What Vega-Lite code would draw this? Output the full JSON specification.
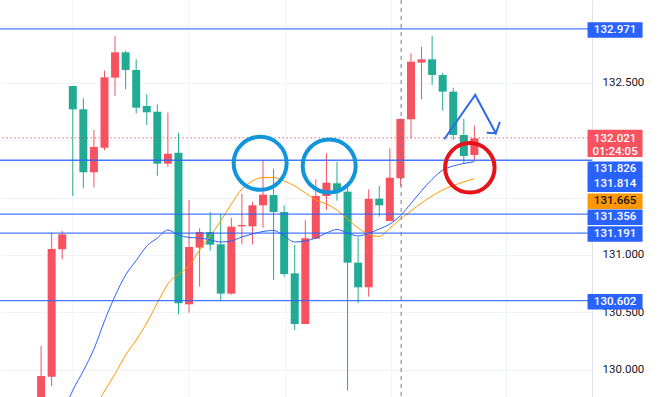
{
  "$schema": "https://vega.github.io/schema/vega-lite/v6.json",
  "width": 592,
  "height": 397,
  "padding": {"left": 0, "top": 0, "right": 68, "bottom": 0},
  "autosize": {"type": "none"},
  "background": "white",
  "config": {"view": {"stroke": null}, "font": "Roboto"},
  "resolve": {"axis": {"x": "independent", "y": "independent"}},
  "datasets": {
    "candles": [
      {"i": 0, "o": 129.60, "h": 130.207, "l": 129.50, "c": 129.945},
      {"i": 1, "o": 129.939, "h": 131.194, "l": 129.858, "c": 131.052},
      {"i": 2, "o": 131.050, "h": 131.209, "l": 130.963, "c": 131.180},
      {"i": 3, "o": 132.473, "h": 132.475, "l": 131.514, "c": 132.270},
      {"i": 4, "o": 132.270, "h": 132.366, "l": 131.582, "c": 131.721},
      {"i": 5, "o": 131.721, "h": 132.090, "l": 131.590, "c": 131.942},
      {"i": 6, "o": 131.935, "h": 132.607, "l": 131.913, "c": 132.549},
      {"i": 7, "o": 132.546, "h": 132.909, "l": 132.386, "c": 132.767},
      {"i": 8, "o": 132.767, "h": 132.781, "l": 132.445, "c": 132.613},
      {"i": 9, "o": 132.613, "h": 132.706, "l": 132.235, "c": 132.284},
      {"i": 10, "o": 132.299, "h": 132.401, "l": 132.133, "c": 132.244},
      {"i": 11, "o": 132.249, "h": 132.314, "l": 131.691, "c": 131.796},
      {"i": 12, "o": 131.796, "h": 132.241, "l": 131.770, "c": 131.883},
      {"i": 13, "o": 131.892, "h": 132.066, "l": 130.483, "c": 130.579},
      {"i": 14, "o": 130.570, "h": 131.480, "l": 130.497, "c": 131.070},
      {"i": 15, "o": 131.064, "h": 131.233, "l": 130.724, "c": 131.201},
      {"i": 16, "o": 131.201, "h": 131.375, "l": 131.037, "c": 131.090},
      {"i": 17, "o": 131.093, "h": 131.357, "l": 130.599, "c": 130.663},
      {"i": 18, "o": 130.663, "h": 131.325, "l": 130.655, "c": 131.247},
      {"i": 19, "o": 131.250, "h": 131.532, "l": 131.092, "c": 131.262},
      {"i": 20, "o": 131.250, "h": 131.462, "l": 131.092, "c": 131.433},
      {"i": 21, "o": 131.433, "h": 131.822, "l": 131.238, "c": 131.526},
      {"i": 22, "o": 131.523, "h": 131.752, "l": 130.782, "c": 131.375},
      {"i": 23, "o": 131.375, "h": 131.433, "l": 130.811, "c": 130.834},
      {"i": 24, "o": 130.840, "h": 131.087, "l": 130.346, "c": 130.398},
      {"i": 25, "o": 130.398, "h": 131.305, "l": 130.398, "c": 131.146},
      {"i": 26, "o": 131.142, "h": 131.660, "l": 131.140, "c": 131.514},
      {"i": 27, "o": 131.514, "h": 131.887, "l": 131.392, "c": 131.630},
      {"i": 28, "o": 131.625, "h": 131.813, "l": 131.473, "c": 131.552},
      {"i": 29, "o": 131.552, "h": 131.595, "l": 129.817, "c": 130.933},
      {"i": 30, "o": 130.933, "h": 131.154, "l": 130.584, "c": 130.718},
      {"i": 31, "o": 130.718, "h": 131.573, "l": 130.636, "c": 131.491},
      {"i": 32, "o": 131.491, "h": 131.602, "l": 131.334, "c": 131.433},
      {"i": 33, "o": 131.296, "h": 131.930, "l": 131.296, "c": 131.674},
      {"i": 34, "o": 131.669, "h": 132.190, "l": 131.600, "c": 132.186},
      {"i": 35, "o": 132.183, "h": 132.758, "l": 132.017, "c": 132.685},
      {"i": 36, "o": 132.677, "h": 132.816, "l": 132.357, "c": 132.706},
      {"i": 37, "o": 132.706, "h": 132.909, "l": 132.482, "c": 132.569},
      {"i": 38, "o": 132.569, "h": 132.589, "l": 132.258, "c": 132.424},
      {"i": 39, "o": 132.424, "h": 132.459, "l": 132.003, "c": 132.046},
      {"i": 40, "o": 132.046, "h": 132.188, "l": 131.793, "c": 131.863},
      {"i": 41, "o": 131.872, "h": 132.127, "l": 131.828, "c": 132.017}
    ],
    "maFast": [
      {"i": 2, "v": 129.61}, {"i": 3, "v": 129.82}, {"i": 4, "v": 129.99}, {"i": 5, "v": 130.18},
      {"i": 6, "v": 130.425}, {"i": 7, "v": 130.643}, {"i": 8, "v": 130.826}, {"i": 9, "v": 130.952},
      {"i": 10, "v": 131.078}, {"i": 11, "v": 131.148}, {"i": 12, "v": 131.218}, {"i": 13, "v": 131.174},
      {"i": 14, "v": 131.153}, {"i": 15, "v": 131.148}, {"i": 16, "v": 131.131}, {"i": 17, "v": 131.113},
      {"i": 18, "v": 131.122}, {"i": 19, "v": 131.157}, {"i": 20, "v": 131.183}, {"i": 21, "v": 131.205},
      {"i": 22, "v": 131.214}, {"i": 23, "v": 131.166}, {"i": 24, "v": 131.113}, {"i": 25, "v": 131.122},
      {"i": 26, "v": 131.148}, {"i": 27, "v": 131.192}, {"i": 28, "v": 131.222}, {"i": 29, "v": 131.192},
      {"i": 30, "v": 131.166}, {"i": 31, "v": 131.189}, {"i": 32, "v": 131.227}, {"i": 33, "v": 131.270},
      {"i": 34, "v": 131.344}, {"i": 35, "v": 131.449}, {"i": 36, "v": 131.56}, {"i": 37, "v": 131.66},
      {"i": 38, "v": 131.74}, {"i": 39, "v": 131.776}, {"i": 40, "v": 131.798}, {"i": 41, "v": 131.814}
    ],
    "maSlow": [
      {"i": 5, "v": 129.65}, {"i": 6, "v": 129.814}, {"i": 7, "v": 129.963}, {"i": 8, "v": 130.128},
      {"i": 9, "v": 130.259}, {"i": 10, "v": 130.407}, {"i": 11, "v": 130.582}, {"i": 12, "v": 130.747},
      {"i": 13, "v": 130.834}, {"i": 14, "v": 130.904}, {"i": 15, "v": 131.044}, {"i": 16, "v": 131.166},
      {"i": 17, "v": 131.296}, {"i": 18, "v": 131.445}, {"i": 19, "v": 131.575}, {"i": 20, "v": 131.645},
      {"i": 21, "v": 131.676}, {"i": 22, "v": 131.676}, {"i": 23, "v": 131.645}, {"i": 24, "v": 131.602},
      {"i": 25, "v": 131.541}, {"i": 26, "v": 131.480}, {"i": 27, "v": 131.445}, {"i": 28, "v": 131.392},
      {"i": 29, "v": 131.314}, {"i": 30, "v": 131.235}, {"i": 31, "v": 131.183}, {"i": 32, "v": 131.161},
      {"i": 33, "v": 131.235}, {"i": 34, "v": 131.314}, {"i": 35, "v": 131.384}, {"i": 36, "v": 131.453},
      {"i": 37, "v": 131.514}, {"i": 38, "v": 131.567}, {"i": 39, "v": 131.606}, {"i": 40, "v": 131.637},
      {"i": 41, "v": 131.665}
    ],
    "levels": [{"p": 132.971}, {"p": 131.826}, {"p": 131.356}, {"p": 131.191}, {"p": 130.602}],
    "vgrid": [{"i": 3.0}, {"i": 13.98}, {"i": 23.19}, {"i": 33.14}, {"i": 44.03}],
    "blueCircles": [{"i": 20.73, "p": 131.799}, {"i": 27.26, "p": 131.776}],
    "redCircle": [{"i": 40.57, "p": 131.76}],
    "arrow": [
      {"seg": 1, "ord": 1, "i": 38.14, "p": 132.009},
      {"seg": 1, "ord": 2, "i": 41.08, "p": 132.395},
      {"seg": 1, "ord": 3, "i": 43.03, "p": 132.061},
      {"seg": 1, "ord": 4, "i": 43.41, "p": 132.162},
      {"seg": 2, "ord": 1, "i": 43.03, "p": 132.061},
      {"seg": 2, "ord": 2, "i": 42.17, "p": 132.066}
    ],
    "tags": [
      {"price": 132.971, "label": "132.971", "kind": "level"},
      {"price": 131.826, "label": "131.826", "kind": "level"},
      {"price": 131.356, "label": "131.356", "kind": "level"},
      {"price": 131.191, "label": "131.191", "kind": "level"},
      {"price": 130.602, "label": "130.602", "kind": "level"},
      {"price": 131.814, "label": "131.814", "kind": "maFast"},
      {"price": 131.665, "label": "131.665", "kind": "maSlow"},
      {"price": 132.021, "label": "132.021\n01:24:05", "kind": "last"}
    ]
  },
  "layer": [
    {
      "data": {"name": "vgrid"},
      "mark": {"type": "rule", "color": "#f0f3fa", "strokeWidth": 1},
      "encoding": {
        "x": {"field": "i", "type": "quantitative", "scale": {"domain": [-3.414, 51.656], "nice": false, "zero": false}, "axis": null}
      }
    },
    {
      "data": {"name": "candles"},
      "mark": {"type": "rule", "strokeWidth": 1, "clip": true},
      "encoding": {
        "x": {"field": "i", "type": "quantitative", "scale": {"domain": [-3.414, 51.656], "nice": false, "zero": false}, "axis": null},
        "y": {"field": "l", "type": "quantitative", "scale": {"domain": [129.762, 133.223], "nice": false, "zero": false},
          "axis": {"orient": "right", "title": null, "values": [129.5, 130, 130.5, 131, 131.5, 132, 132.5, 133],
            "labelExpr": "(datum.value == 131.5 || datum.value == 132 || datum.value == 133 || datum.value == 129.5) ? '' : format(datum.value, '.3f')",
            "grid": true, "gridColor": "#f0f3fa", "ticks": false, "domainColor": "#e0e3eb",
            "labelColor": "#131722", "labelFontSize": 11.5, "labelPadding": 10, "labelFont": "Roboto", "labelOverlap": false}},
        "y2": {"field": "h"},
        "color": {"condition": {"test": "datum.c >= datum.o", "value": "#f7525f"}, "value": "#22ab94"}
      }
    },
    {
      "data": {"name": "candles"},
      "mark": {"type": "bar", "width": 8, "clip": true},
      "encoding": {
        "x": {"field": "i", "type": "quantitative", "scale": {"domain": [-3.414, 51.656], "nice": false, "zero": false}, "axis": null},
        "y": {"field": "o", "type": "quantitative", "scale": {"domain": [129.762, 133.223], "nice": false, "zero": false}, "axis": null},
        "y2": {"field": "c"},
        "color": {"condition": {"test": "datum.c >= datum.o", "value": "#f7525f"}, "value": "#22ab94"}
      }
    },
    {
      "data": {"name": "maFast"},
      "mark": {"type": "line", "color": "#2962ff", "strokeWidth": 1, "interpolate": "monotone", "clip": true},
      "encoding": {
        "x": {"field": "i", "type": "quantitative", "scale": {"domain": [-3.414, 51.656], "nice": false, "zero": false}, "axis": null},
        "y": {"field": "v", "type": "quantitative", "scale": {"domain": [129.762, 133.223], "nice": false, "zero": false}, "axis": null}
      }
    },
    {
      "data": {"name": "maSlow"},
      "mark": {"type": "line", "color": "#ff9800", "strokeWidth": 1, "interpolate": "monotone", "clip": true},
      "encoding": {
        "x": {"field": "i", "type": "quantitative", "scale": {"domain": [-3.414, 51.656], "nice": false, "zero": false}, "axis": null},
        "y": {"field": "v", "type": "quantitative", "scale": {"domain": [129.762, 133.223], "nice": false, "zero": false}, "axis": null}
      }
    },
    {
      "data": {"name": "levels"},
      "mark": {"type": "rule", "color": "#2962ff", "strokeWidth": 1.3, "opacity": 0.85},
      "encoding": {
        "y": {"field": "p", "type": "quantitative", "scale": {"domain": [129.762, 133.223], "nice": false, "zero": false}, "axis": null}
      }
    },
    {
      "data": {"values": [{"p": 132.021}]},
      "mark": {"type": "rule", "color": "#f23645", "strokeWidth": 1, "strokeDash": [1.5, 2.5], "opacity": 0.8},
      "encoding": {
        "y": {"field": "p", "type": "quantitative", "scale": {"domain": [129.762, 133.223], "nice": false, "zero": false}, "axis": null}
      }
    },
    {
      "data": {"values": [{"i": 34.07}]},
      "mark": {"type": "rule", "color": "#787b86", "strokeWidth": 1, "strokeDash": [4, 4]},
      "encoding": {
        "x": {"field": "i", "type": "quantitative", "scale": {"domain": [-3.414, 51.656], "nice": false, "zero": false}, "axis": null}
      }
    },
    {
      "data": {"name": "blueCircles"},
      "mark": {"type": "point", "shape": "circle", "filled": false, "size": 2809, "strokeWidth": 4, "color": "#1296db", "opacity": 1},
      "encoding": {
        "x": {"field": "i", "type": "quantitative", "scale": {"domain": [-3.414, 51.656], "nice": false, "zero": false}, "axis": null},
        "y": {"field": "p", "type": "quantitative", "scale": {"domain": [129.762, 133.223], "nice": false, "zero": false}, "axis": null}
      }
    },
    {
      "data": {"name": "redCircle"},
      "mark": {"type": "point", "shape": "circle", "filled": false, "size": 2450, "strokeWidth": 4, "color": "#e3151a", "opacity": 1},
      "encoding": {
        "x": {"field": "i", "type": "quantitative", "scale": {"domain": [-3.414, 51.656], "nice": false, "zero": false}, "axis": null},
        "y": {"field": "p", "type": "quantitative", "scale": {"domain": [129.762, 133.223], "nice": false, "zero": false}, "axis": null}
      }
    },
    {
      "data": {"name": "arrow"},
      "mark": {"type": "line", "color": "#3168e8", "strokeWidth": 2},
      "encoding": {
        "x": {"field": "i", "type": "quantitative", "scale": {"domain": [-3.414, 51.656], "nice": false, "zero": false}, "axis": null},
        "y": {"field": "p", "type": "quantitative", "scale": {"domain": [129.762, 133.223], "nice": false, "zero": false}, "axis": null},
        "detail": {"field": "seg"},
        "order": {"field": "ord"}
      }
    },
    {
      "data": {"name": "tags"},
      "encoding": {
        "x": {"datum": 54.31, "type": "quantitative", "scale": {"domain": [-3.414, 51.656], "nice": false, "zero": false}, "axis": null},
        "y": {"field": "price", "type": "quantitative", "scale": {"domain": [129.762, 133.223], "nice": false, "zero": false}, "axis": null}
      },
      "layer": [
        {
          "transform": [{"filter": {"field": "label", "oneOf": ["132.971", "131.191", "130.602"]}}],
          "mark": {"type": "point", "shape": "M-1,-0.282L1,-0.282L1,0.282L-1,0.282Z", "size": 3025, "filled": true, "opacity": 1, "strokeWidth": 0, "yOffset": 1},
          "encoding": {"color": {"field": "kind", "type": "nominal", "scale": {"domain": ["level", "maFast", "maSlow", "last"], "range": ["#2962ff", "#2962ff", "#ff9800", "#f7525f"]}, "legend": null}}
        },
        {
          "transform": [{"filter": {"field": "label", "oneOf": ["132.971", "131.191", "130.602"]}}],
          "mark": {"type": "text", "fontSize": 11.5, "fontWeight": 500, "align": "center", "baseline": "middle", "yOffset": 1, "color": "white"},
          "encoding": {"text": {"field": "label"}}
        },
        {
          "transform": [{"filter": {"field": "label", "equal": "131.356"}}],
          "mark": {"type": "point", "shape": "M-1,-0.282L1,-0.282L1,0.282L-1,0.282Z", "size": 3025, "filled": true, "opacity": 1, "strokeWidth": 0, "yOffset": 3},
          "encoding": {"color": {"field": "kind", "type": "nominal", "scale": {"domain": ["level", "maFast", "maSlow", "last"], "range": ["#2962ff", "#2962ff", "#ff9800", "#f7525f"]}, "legend": null}}
        },
        {
          "transform": [{"filter": {"field": "label", "equal": "131.356"}}],
          "mark": {"type": "text", "fontSize": 11.5, "fontWeight": 500, "align": "center", "baseline": "middle", "yOffset": 3, "color": "white"},
          "encoding": {"text": {"field": "label"}}
        },
        {
          "transform": [{"filter": {"field": "label", "equal": "131.826"}}],
          "mark": {"type": "point", "shape": "M-1,-0.282L1,-0.282L1,0.282L-1,0.282Z", "size": 3025, "filled": true, "opacity": 1, "strokeWidth": 0, "yOffset": 9},
          "encoding": {"color": {"field": "kind", "type": "nominal", "scale": {"domain": ["level", "maFast", "maSlow", "last"], "range": ["#2962ff", "#2962ff", "#ff9800", "#f7525f"]}, "legend": null}}
        },
        {
          "transform": [{"filter": {"field": "label", "equal": "131.826"}}],
          "mark": {"type": "text", "fontSize": 11.5, "fontWeight": 500, "align": "center", "baseline": "middle", "yOffset": 9, "color": "white"},
          "encoding": {"text": {"field": "label"}}
        },
        {
          "transform": [{"filter": {"field": "label", "oneOf": ["131.814", "131.665"]}}],
          "mark": {"type": "point", "shape": "M-1,-0.282L1,-0.282L1,0.282L-1,0.282Z", "size": 3025, "filled": true, "opacity": 1, "strokeWidth": 0, "yOffset": 22.5},
          "encoding": {"color": {"field": "kind", "type": "nominal", "scale": {"domain": ["level", "maFast", "maSlow", "last"], "range": ["#2962ff", "#2962ff", "#ff9800", "#f7525f"]}, "legend": null}}
        },
        {
          "transform": [{"filter": {"field": "label", "oneOf": ["131.814", "131.665"]}}],
          "mark": {"type": "text", "fontSize": 11.5, "fontWeight": 500, "align": "center", "baseline": "middle", "yOffset": 22.5},
          "encoding": {
            "text": {"field": "label"},
            "color": {"condition": {"test": "datum.kind == 'maSlow'", "value": "#131722"}, "value": "white"}
          }
        },
        {
          "transform": [{"filter": {"field": "kind", "equal": "last"}}],
          "mark": {"type": "point", "shape": "M-1,-0.496L1,-0.496L1,0.496L-1,0.496Z", "size": 3025, "filled": true, "opacity": 1, "strokeWidth": 0, "yOffset": 5.6},
          "encoding": {"color": {"field": "kind", "type": "nominal", "scale": {"domain": ["level", "maFast", "maSlow", "last"], "range": ["#2962ff", "#2962ff", "#ff9800", "#f7525f"]}, "legend": null}}
        },
        {
          "transform": [{"filter": {"field": "kind", "equal": "last"}}],
          "mark": {"type": "text", "fontSize": 11.5, "fontWeight": 500, "align": "center", "baseline": "middle", "yOffset": 1.2, "lineBreak": "\n", "lineHeight": 13, "color": "white"},
          "encoding": {"text": {"field": "label"}}
        }
      ]
    }
  ]
}
